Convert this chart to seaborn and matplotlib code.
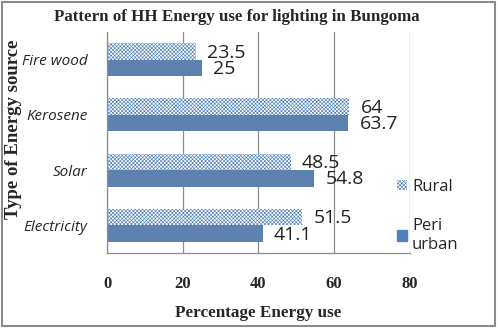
import matplotlib
matplotlib.use('Agg')
import matplotlib.pyplot as plt
import matplotlib.patches as mpatches
import seaborn as sns
import pandas as pd

sources = ['Fire wood', 'Kerosene', 'Solar', 'Electricity']
rural = [23.5, 64, 48.5, 51.5]
peri_urban = [25, 63.7, 54.8, 41.1]
series = ['Rural', 'Peri urban']

df = pd.DataFrame({
    'source': sources * 2,
    'value': rural + peri_urban,
    'area': ['Rural'] * 4 + ['Peri urban'] * 4,
})

sns.set_style('white')
plt.rcParams['hatch.color'] = '#6f96c8'
plt.rcParams['hatch.linewidth'] = 0.45

fig = plt.figure(figsize=(4.98, 3.28), dpi=100)
ax = fig.add_axes([0.215, 0.229, 0.608, 0.673])

blue = '#4F81BD'
sns.barplot(data=df, y='source', x='value', hue='area', hue_order=series,
            order=sources, orient='h', width=0.6, ax=ax,
            palette={'Rural': 'white', 'Peri urban': blue}, legend=False)

n = len(sources)
for i, p in enumerate(ax.patches[:2 * n]):
    if i < n:
        p.set_hatch('xxxxxxxxx')
    p.set_edgecolor(blue)
    p.set_linewidth(0)

# value labels
for cont, vals in zip(ax.containers, [rural, peri_urban]):
    for bar, v in zip(cont, vals):
        y = bar.get_y() + bar.get_height() / 2
        ax.text(bar.get_width() + 3.0, y + 0.02, f'{v:g}', va='center', ha='left',
                fontsize=14, family='Open Sans', color='#222222')

ax.set_xlim(0, 80)
ax.set_ylim(3.5, -0.5)
ax.set_xticks([0, 20, 40, 60, 80])
ax.xaxis.grid(True, color='#8c8c8c', linewidth=0.9)
ax.set_axisbelow(True)
for s in ['top', 'right']:
    ax.spines[s].set_visible(False)
for s in ['left', 'bottom']:
    ax.spines[s].set_color('#8c8c8c')
    ax.spines[s].set_linewidth(0.9)
ax.tick_params(axis='x', direction='out', length=5, color='#8c8c8c', pad=12)
ax.tick_params(axis='y', length=0, pad=14)
for lab in ax.get_xticklabels():
    lab.set_family('Liberation Serif')
    lab.set_fontweight('bold')
    lab.set_fontsize(12)
for lab in ax.get_yticklabels():
    lab.set_family('Open Sans')
    lab.set_style('italic')
    lab.set_fontsize(11)

ax.set_xlabel('Percentage Energy use', family='Liberation Serif', fontweight='bold',
              fontsize=12.3, labelpad=9)
ax.set_ylabel('Type of Energy source', family='Liberation Serif', fontweight='bold',
              fontsize=13.5)
ax.yaxis.set_label_coords(-0.28, 0.56)
ax.set_title('Pattern of HH Energy use for lighting in Bungoma', family='Liberation Serif',
             fontweight='bold', fontsize=12.2, pad=8, x=0.43)

handles = [mpatches.Patch(facecolor='white', edgecolor=blue, hatch='xxxxxxxxx', linewidth=0),
           mpatches.Patch(facecolor=blue, edgecolor=blue)]
leg = fig.legend(handles, ['Rural', 'Peri\nurban'], loc='upper left',
                 bbox_to_anchor=(0.767, 0.50), frameon=False, handlelength=0.6,
                 handleheight=0.6, labelspacing=1.4, handletextpad=0.3,
                 prop={'family': 'Open Sans', 'size': 12})

fig.patches.append(mpatches.Rectangle((0.004, 0.006), 0.99, 0.988, transform=fig.transFigure,
                                      fill=False, edgecolor='#8c8c8c', linewidth=1.5))

fig.savefig('out.png', dpi=100)
